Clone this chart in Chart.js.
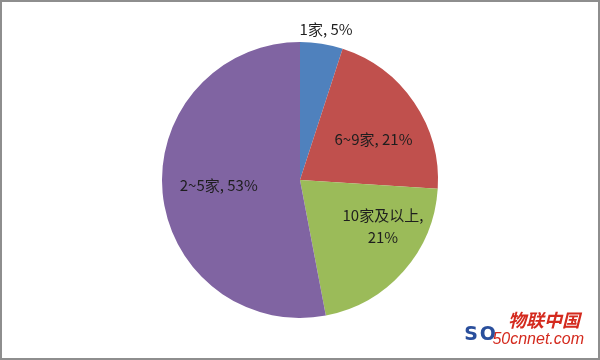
<!DOCTYPE html>
<html>
<head>
<meta charset="utf-8">
<script src="https://cdn.jsdelivr.net/npm/chart.js@4"></script>
<style>
    html, body { margin: 0; padding: 0; background: #fff; }
    .frame {
        position: relative;
        width: 600px; height: 360px;
        box-sizing: border-box;
        border: 2px solid #8e8e8e;
        background: #fff;
    }
    .frame canvas { display: block; }
    .mark {
        position: absolute; right: 14px; bottom: 8px;
        font-family: "Noto Sans CJK SC", sans-serif;
        line-height: 1;
    }
    .mark .so { position: absolute; right: 86px; bottom: 6px; color: #2a4f9c; font: bold 19px "DejaVu Sans", sans-serif; letter-spacing: 2px; }
    .mark .cn { position: absolute; right: 4px; bottom: 22px; color: #d42a1e; font-size: 18px; font-weight: bold; font-style: italic; white-space: nowrap; }
    .mark .url { position: absolute; right: 0; bottom: 2px; color: #d42a1e; font: italic 16px "Liberation Sans", sans-serif; white-space: nowrap; }
</style>
</head>
<body>
<div class="frame">
    <canvas id="pie" width="596" height="356"></canvas>
    <div class="mark">
        <span class="so">SO</span>
        <span class="cn">物联中国</span>
        <span class="url">50cnnet.com</span>
    </div>
</div>
<script>
(function () {
    'use strict';

    // ── Data ──────────────────────────────────────────────────
    var categories = ['1家', '6~9家', '10家及以上', '2~5家'];
    var shares     = [5, 21, 21, 53];
    var labelLines = [['1家, 5%'], ['6~9家, 21%'], ['10家及以上,', '21%'], ['2~5家, 53%']];

    // ── Style ─────────────────────────────────────────────────
    var colors      = ['#4F81BD', '#C0504D', '#9BBB59', '#8064A2'];
    var labelRadius = [1.11, 0.61, 0.69, 0.59];   // fraction of outer radius
    var labelTurn   = [0.8, 5, -12, 2];           // degrees nudge from mid angle

    // Data labels drawn from each arc's own geometry
    var sliceLabels = {
        id: 'sliceLabels',
        afterDatasetsDraw: function (chart) {
            var ctx  = chart.ctx;
            var meta = chart.getDatasetMeta(0);
            ctx.save();
            ctx.font = '15px "Noto Sans CJK SC", "DejaVu Sans", sans-serif';
            ctx.fillStyle = '#1e1e1e';
            ctx.textAlign = 'center';
            ctx.textBaseline = 'middle';
            meta.data.forEach(function (arc, i) {
                var p   = arc.getProps(['x', 'y', 'startAngle', 'endAngle', 'outerRadius'], true);
                var mid = (p.startAngle + p.endAngle) / 2 + labelTurn[i] * Math.PI / 180;
                var r   = p.outerRadius * labelRadius[i];
                var cx  = p.x + Math.cos(mid) * r;
                var cy  = p.y + Math.sin(mid) * r;
                var lines = labelLines[i];
                var lh = 22;
                lines.forEach(function (t, k) {
                    ctx.fillText(t, cx, cy + (k - (lines.length - 1) / 2) * lh);
                });
            });
            ctx.restore();
        }
    };

    new Chart(document.getElementById('pie'), {
        type: 'pie',
        data: {
            labels: categories,
            datasets: [{
                data: shares,
                backgroundColor: colors,
                borderWidth: 0
            }]
        },
        options: {
            responsive: false,
            animation: false,
            layout: { padding: { top: 40, bottom: 40 } },
            plugins: {
                legend: { display: false },
                tooltip: { enabled: false }
            }
        },
        plugins: [sliceLabels]
    });
}());
</script>
</body>
</html>
